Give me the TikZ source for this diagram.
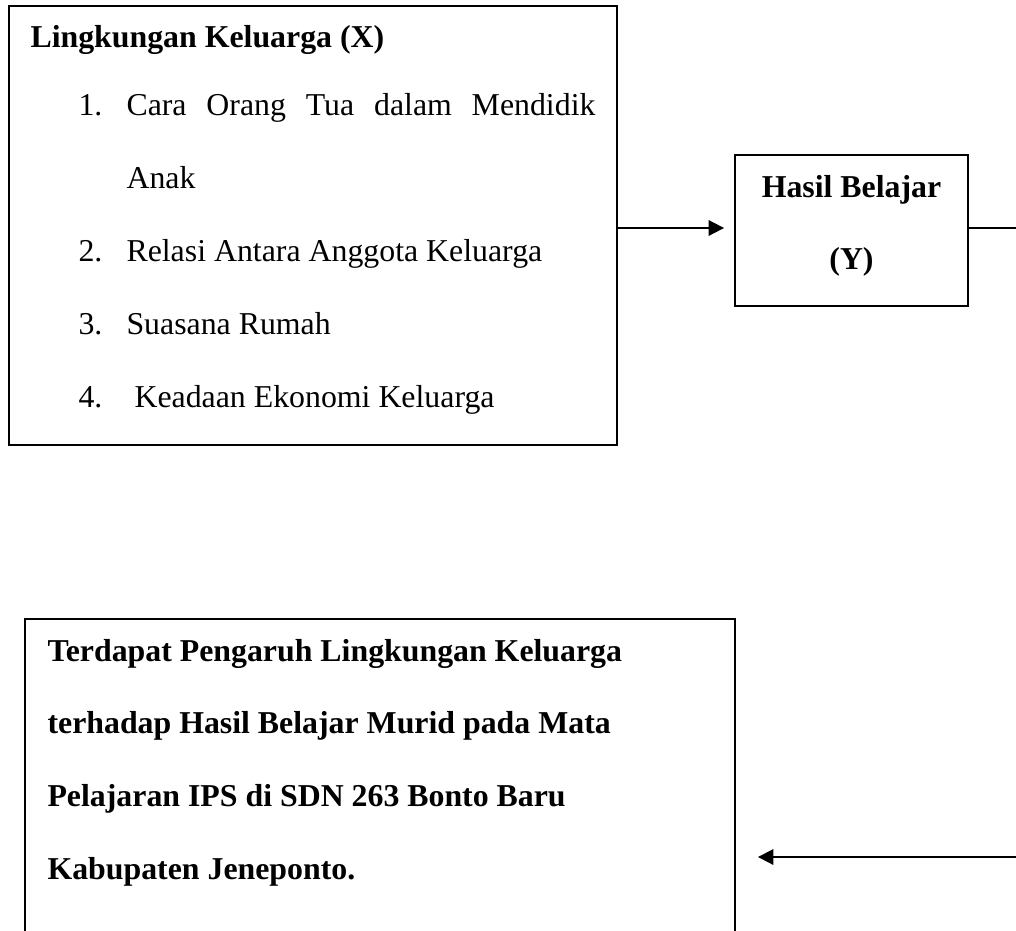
\documentclass[tikz,border=0pt]{standalone}
\usepackage{fontspec}
\setmainfont{Liberation Serif}
\usetikzlibrary{arrows.meta}

\begin{document}
\begin{tikzpicture}[x=0.377pt,y=-0.377pt,font=\fontsize{12}{14}\selectfont,
  box/.style={draw,line width=0.7pt,inner sep=0pt},
  txt/.style={anchor=base west,inner sep=0pt},
  arr/.style={line width=0.7pt,-{Triangle[length=5.8pt,width=5.8pt]}}]

\def\px{0.377pt}
\def\numx{78} \def\itemx{126} \def\botx{47}
\def\ya{115} \def\yb{188} \def\yc{261} \def\yd{334} \def\ye{407}

\clip (0,0) rectangle (1016,930);
\fill [white] (0,0) rectangle (1016,930);

\node [box,minimum width=608*\px,minimum height=439*\px] (X) at (313,225.5) {};
\node [box,minimum width=233*\px,minimum height=151*\px] (Y) at (851.5,230.5) {};
\node [box,minimum width=710*\px,minimum height=362*\px] (H) at (380,800) {};

\node [txt,font=\fontsize{12}{14}\selectfont\bfseries] (X_title) at (30,47) {Lingkungan Keluarga (X)};

\node [txt] (X_1_num) at (\numx,\ya) {1.};
\node [txt] (X_1) at (\itemx,\ya) {\hbox to 176.8pt{Cara\hfill Orang\hfill Tua\hfill dalam\hfill Mendidik}};
\node [txt] (X_1b) at (\itemx,\yb) {Anak};
\node [txt] (X_2_num) at (\numx,\yc) {2.};
\node [txt] (X_2) at (\itemx,\yc) {Relasi Antara Anggota Keluarga};
\node [txt] (X_3_num) at (\numx,\yd) {3.};
\node [txt] (X_3) at (\itemx,\yd) {Suasana Rumah};
\node [txt] (X_4_num) at (\numx,\ye) {4.};
\node [txt] (X_4) at (\itemx+8,\ye) {Keadaan Ekonomi Keluarga};

\node [anchor=base,inner sep=0pt,font=\fontsize{12}{14}\selectfont\bfseries] (Y_1) at (851.5,197) {Hasil Belajar};
\node [anchor=base,inner sep=0pt,font=\fontsize{12}{14}\selectfont\bfseries] (Y_2) at (851.5,269) {(Y)};

\node [txt,font=\fontsize{12}{14}\selectfont\bfseries] (H_1) at (\botx,661) {Terdapat Pengaruh Lingkungan Keluarga};
\node [txt,font=\fontsize{12}{14}\selectfont\bfseries] (H_2) at (\botx,733) {terhadap Hasil Belajar Murid pada Mata};
\node [txt,font=\fontsize{12}{14}\selectfont\bfseries] (H_3) at (\botx,806) {Pelajaran IPS di SDN 263 Bonto Baru};
\node [txt,font=\fontsize{12}{14}\selectfont\bfseries] (H_4) at (\botx,879) {Kabupaten Jeneponto.};

\coordinate (armY) at (0,228);
\coordinate (edgeTop) at (1016,228);
\coordinate (edgeBot) at (1016,857);

\draw [arr,shorten >=10*\px] (X.east |- armY) -- (Y.west |- armY);
\draw [line width=0.7pt] (Y.east |- armY) -- (edgeTop);
\draw [arr,shorten >=22*\px] (edgeBot) -- (H.east |- edgeBot);
\end{tikzpicture}
\end{document}
